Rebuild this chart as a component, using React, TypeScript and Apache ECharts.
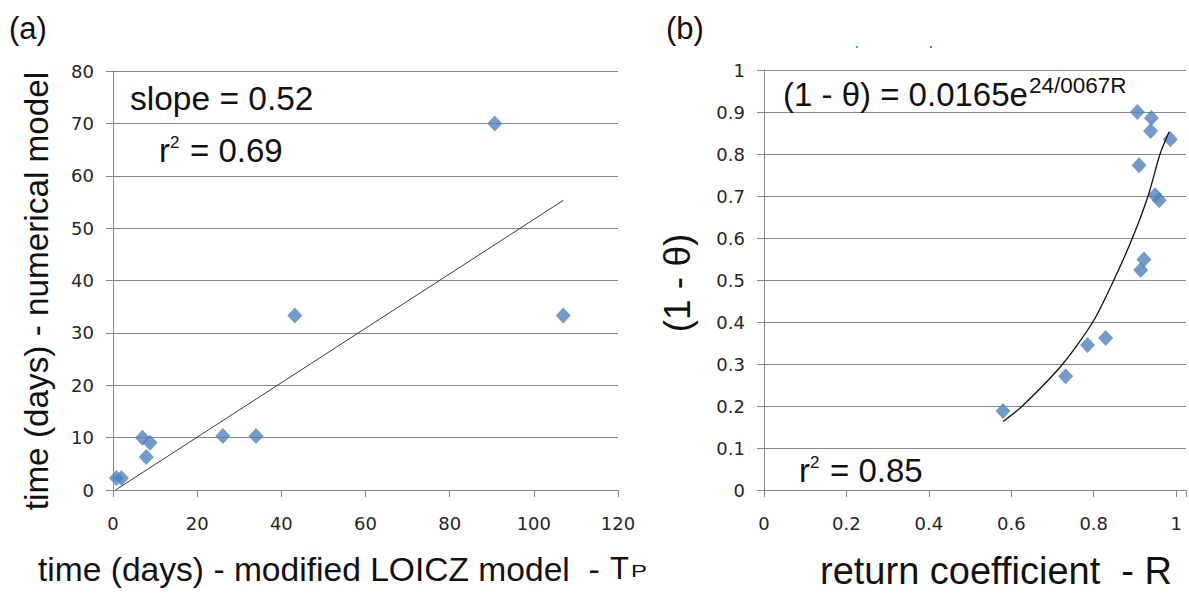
import React, { useEffect, useRef } from "react";
import * as echarts from "echarts";

// Panel (a): numerical model vs modified LOICZ model residence times (days)
const A_X = [0.8, 2.0, 7.0, 8.8, 7.9, 26.1, 34.0, 43.2, 90.7, 107.0];
const A_Y = [2.3, 2.3, 10.0, 9.0, 6.3, 10.3, 10.3, 33.3, 70.0, 33.3];
const A_FIT_X = [0.6, 107];
const A_FIT_Y = [0, 55.3];

// Panel (b): return coefficient R vs (1 - θ)
const B_R = [0.58, 0.732, 0.785, 0.829, 0.906, 0.94, 0.938, 0.986, 0.91, 0.949, 0.959, 0.922, 0.914];
const B_T = [0.188, 0.271, 0.345, 0.362, 0.9, 0.886, 0.855, 0.835, 0.773, 0.702, 0.69, 0.549, 0.524];
const B_FIT_R = [0.58, 0.627, 0.725, 0.798, 0.849, 0.894, 0.932, 0.961, 0.983];
const B_FIT_T = [0.163, 0.2, 0.3, 0.4, 0.5, 0.6, 0.7, 0.8, 0.853];

const A_X_TICKS = { min: 0, max: 120, interval: 20 };
const A_Y_TICKS = { min: 0, max: 80, interval: 10 };
// panel (b) plot area runs a little past R = 1, as in the reference
const B_X_TICKS = { min: 0, max: 1.024, interval: 0.2 };
const B_Y_TICKS = { min: 0, max: 1, interval: 0.1 };

const FONT = "Liberation Sans";
const TICK_FONT = "DejaVu Sans";
const GRID_COLOR = "#868686";
const LABEL_COLOR = "#262626";
const MARKER = "#4F81BD";

const zip = (xs: number[], ys: number[]) => xs.map((x, i) => [x, ys[i]]);
const fmtStep = (step: number) => (v: number) => {
  const k = v / step;
  if (Math.abs(k - Math.round(k)) > 1e-6) return "";
  return String(Math.round(v * 10) / 10);
};

function xAxis(gridIndex: number, t: { min: number; max: number; interval: number }) {
  return {
    type: "value",
    gridIndex,
    ...t,
    axisLine: { show: true, lineStyle: { color: GRID_COLOR, width: 1 } },
    axisTick: { show: true, length: 7, lineStyle: { color: GRID_COLOR } },
    axisLabel: {
      color: LABEL_COLOR,
      fontFamily: TICK_FONT,
      fontSize: 18,
      margin: 24,
      formatter: fmtStep(t.interval),
    },
    splitLine: { show: false },
  };
}
function yAxis(gridIndex: number, t: { min: number; max: number; interval: number }) {
  return {
    type: "value",
    gridIndex,
    ...t,
    axisLine: { show: true, lineStyle: { color: GRID_COLOR, width: 1 } },
    axisTick: { show: true, length: 7, lineStyle: { color: GRID_COLOR } },
    axisLabel: {
      color: LABEL_COLOR,
      fontFamily: TICK_FONT,
      fontSize: 18,
      margin: 19,
      formatter: fmtStep(t.interval),
    },
    splitLine: { show: true, lineStyle: { color: GRID_COLOR, width: 1 } },
  };
}

function txt(text: string, x: number, y: number, size: number, extra: any = {}) {
  return {
    type: "text",
    x,
    y,
    rotation: extra.rotation || 0,
    scaleX: extra.scaleX || 1,
    style: {
      text,
      fontFamily: FONT,
      fontSize: size,
      fill: extra.fill || "#111",
      textAlign: extra.align || "left",
      textVerticalAlign: extra.valign || "middle",
    },
    z: 100,
  };
}

export default function App() {
  const ref = useRef<HTMLDivElement>(null);
  useEffect(() => {
    const chart = echarts.init(ref.current!, null, { renderer: "svg" });
    chart.setOption({
      animation: false,
      backgroundColor: "#ffffff",
      grid: [
        { left: 113, right: 571, top: 71, bottom: 104 },
        { left: 764, right: 0, top: 70, bottom: 104 },
      ],
      xAxis: [xAxis(0, A_X_TICKS), xAxis(1, B_X_TICKS)],
      yAxis: [yAxis(0, A_Y_TICKS), yAxis(1, B_Y_TICKS)],
      series: [
        {
          type: "line",
          xAxisIndex: 0,
          yAxisIndex: 0,
          data: zip(A_FIT_X, A_FIT_Y),
          showSymbol: false,
          lineStyle: { color: "#3a3a3a", width: 1 },
          silent: true,
        },
        {
          type: "scatter",
          xAxisIndex: 0,
          yAxisIndex: 0,
          data: zip(A_X, A_Y),
          symbol: "diamond",
          symbolSize: [15, 16],
          itemStyle: { color: MARKER },
        },
        {
          type: "line",
          xAxisIndex: 1,
          yAxisIndex: 1,
          data: zip(B_FIT_R, B_FIT_T),
          showSymbol: false,
          smooth: 0.25,
          lineStyle: { color: "#111", width: 1.3 },
          silent: true,
        },
        {
          type: "scatter",
          xAxisIndex: 1,
          yAxisIndex: 1,
          data: zip(B_R, B_T),
          symbol: "diamond",
          symbolSize: [15, 16],
          itemStyle: { color: MARKER },
        },
      ],
      graphic: [
        txt("(a)", 9, 28, 31),
        txt("(b)", 666, 28, 31),
        txt("time (days) - numerical model", 36, 291, 33.3, { rotation: Math.PI / 2, align: "center" }),
        txt("time (days) - modified LOICZ model  -", 38, 569, 33.6),
        txt("T", 610, 568, 31),
        txt("P", 631, 572, 16, { scaleX: 1.5 }),
        txt("slope = 0.52", 130, 98, 33.5),
        txt("r", 159, 150, 33),
        txt("2", 170, 142, 17),
        txt("= 0.69", 190, 150, 33),
        txt("(1 - θ)", 677, 283, 37, { rotation: Math.PI / 2, align: "center" }),
        txt("return coefficient  - R", 820, 571, 38),
        txt("(1 - θ) = 0.0165e", 783, 94, 33),
        txt("24/0067R", 1029, 85, 22.5),
        txt("r", 799, 470, 33),
        txt("2", 810, 462, 17),
        txt("= 0.85", 830, 470, 33),
        { type: "rect", shape: { x: 856, y: 46, width: 2, height: 2 }, style: { fill: "#3fa9d0" } },
        { type: "rect", shape: { x: 930, y: 46, width: 2, height: 2 }, style: { fill: "#c0408a" } },
      ],
    });
    return () => chart.dispose();
  }, []);
  return <div ref={ref} style={{ position: "fixed", left: 0, top: 0, width: 1189, height: 594 }} />;
}
